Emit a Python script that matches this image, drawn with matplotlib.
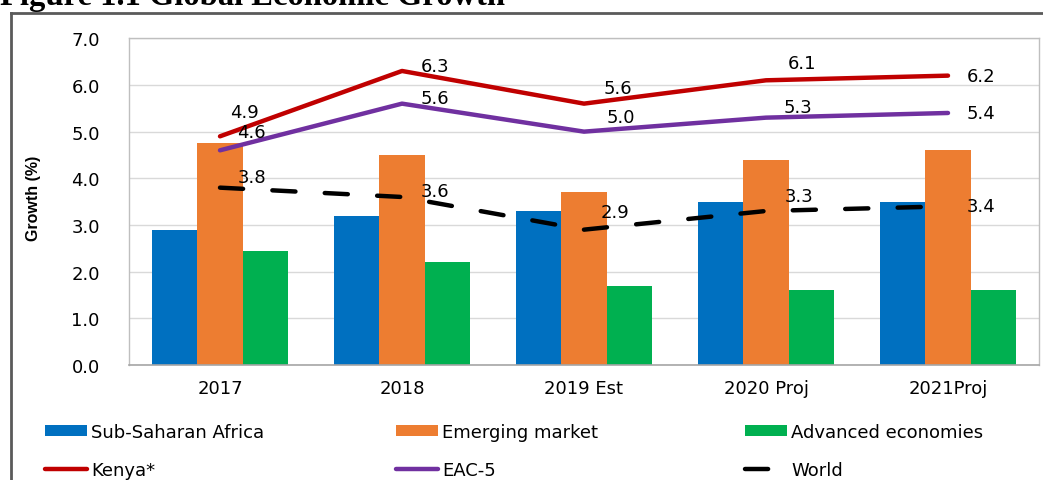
import matplotlib
matplotlib.use("Agg")
import matplotlib.pyplot as plt
from matplotlib.lines import Line2D
import numpy as np

# ---- data ----
categories = ["2017", "2018", "2019 Est", "2020 Proj", "2021Proj"]
ssa = [2.9, 3.2, 3.3, 3.5, 3.5]
emerging = [4.75, 4.5, 3.7, 4.4, 4.6]
advanced = [2.45, 2.2, 1.7, 1.6, 1.6]
kenya = [4.9, 6.3, 5.6, 6.1, 6.2]
eac5 = [4.6, 5.6, 5.0, 5.3, 5.4]
world = [3.8, 3.6, 2.9, 3.3, 3.4]
kenya_labels = ["4.9", "6.3", "5.6", "6.1", "6.2"]
eac5_labels = ["4.6", "5.6", "5.0", "5.3", "5.4"]
world_labels = ["3.8", "3.6", "2.9", "3.3", "3.4"]
yticks = [0, 1, 2, 3, 4, 5, 6, 7]

# label offsets in pixels (dx, dy)
kenya_off = [(24, 24), (33, 5), (34, 16), (36, 17), (33, 0)]
eac5_off = [(31, 18), (33, 6), (37, 15), (32, 11), (33, 0)]
world_off = [(32, 11), (33, 6), (31, 18), (33, 15), (33, 0)]

W, H = 1043, 481
fig = plt.figure(figsize=(W / 100, H / 100), dpi=100)
ax = fig.add_axes([129 / W, 1 - 366 / H, (1039 - 129) / W, (366 - 39.3) / H])

FONT = "DejaVu Sans"
FS = 13

x = np.arange(len(categories))
bw = 0.25
b1 = ax.bar(x - bw, ssa, bw, color="#0070C0", label="Sub-Saharan Africa", zorder=2)
b2 = ax.bar(x, emerging, bw, color="#ED7D31", label="Emerging market", zorder=2)
b3 = ax.bar(x + bw, advanced, bw, color="#00B050", label="Advanced economies", zorder=2)

lw = 3.2
l1, = ax.plot(x, kenya, color="#C00000", lw=lw, solid_capstyle="round", label="Kenya*", zorder=3)
l2, = ax.plot(x, eac5, color="#7030A0", lw=lw, solid_capstyle="round", label="EAC-5", zorder=3)
l3, = ax.plot(x, world, color="black", lw=lw, dashes=(5.2, 6.6), dash_capstyle="round",
              label="World", zorder=3)

for vals, labs, offs in [(kenya, kenya_labels, kenya_off), (eac5, eac5_labels, eac5_off),
                         (world, world_labels, world_off)]:
    for xi, v, lab, (dx, dy) in zip(x, vals, labs, offs):
        ax.annotate(lab, (xi, v), xytext=(dx, dy), textcoords="offset pixels",
                    ha="center", va="center", fontsize=FS, family=FONT, color="black", zorder=4)

ax.set_xlim(-0.5, 4.5)
ax.set_ylim(0, 7)
ax.set_yticks(yticks)
ax.set_yticklabels([f"{t:.1f}" for t in yticks], family=FONT, fontsize=FS)
ax.set_xticks(x)
ax.set_xticklabels(categories, family=FONT, fontsize=FS)
ax.tick_params(axis="both", length=0, colors="black")
ax.tick_params(axis="y", pad=21)
ax.tick_params(axis="x", pad=10)
ax.yaxis.grid(True, color="#D9D9D9", lw=1, zorder=0)
ax.set_axisbelow(True)
for s in ["left", "top", "right"]:
    ax.spines[s].set_color("#BFBFBF")
    ax.spines[s].set_linewidth(1)
ax.spines["bottom"].set_color("#A6A6A6")
ax.spines["bottom"].set_linewidth(1.2)

fig.text(33.5 / W, 1 - 198.5 / H, "Growth (%)", rotation=90, ha="center", va="center",
         fontsize=11.5, fontweight="bold", family="Liberation Sans")

# legends (one per column)
cols = [([b1, l1], 45), ([b2, l2], 396), ([b3, l3], 745)]
for handles, xpx in cols:
    leg = fig.legend(handles=handles, loc="upper left", bbox_to_anchor=(xpx / W, 1 - 424 / H),
                     frameon=False, borderpad=0, borderaxespad=0, handlelength=2.35,
                     handleheight=0.5, handletextpad=0.22, labelspacing=1.12,
                     prop={"family": FONT, "size": FS})

# outer frame
fig.add_artist(Line2D([11 / W, 1], [1 - 13.5 / H, 1 - 13.5 / H], transform=fig.transFigure,
                      color="#5A5A5A", lw=2))
fig.add_artist(Line2D([11 / W, 11 / W], [1 - 13.5 / H, 0], transform=fig.transFigure,
                      color="#5A5A5A", lw=2))

# title (cut off at top in the reference)
fig.text(0.5 / W, 1 - 5.5 / H, "Figure 1.1 Global Economic Growth", ha="left", va="baseline",
         fontsize=23.5, fontweight="bold", family="Liberation Serif")

fig.savefig("out.png", dpi=100)
